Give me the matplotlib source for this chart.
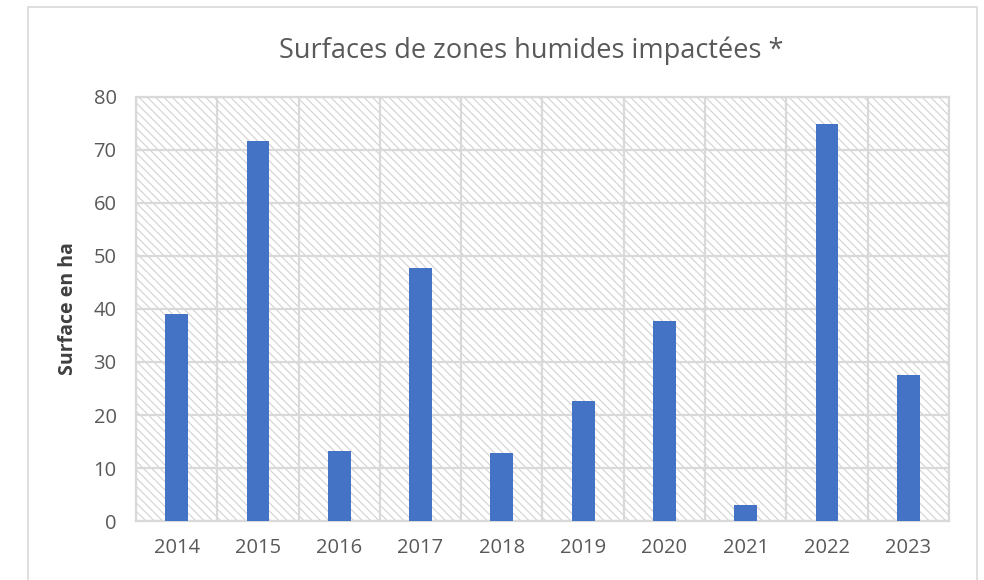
import matplotlib.pyplot as plt
from matplotlib.patches import Rectangle

# data
years = ['2014', '2015', '2016', '2017', '2018', '2019', '2020', '2021', '2022', '2023']
surface_ha = [39.0, 71.7, 13.2, 47.7, 12.9, 22.6, 37.7, 3.0, 74.9, 27.5]

plt.rcParams['font.family'] = ['Open Sans', 'DejaVu Sans']
plt.rcParams['hatch.color'] = '#d2d2d2'
plt.rcParams['hatch.linewidth'] = 0.8

grid_col = '#d9d9d9'
text_col = '#595959'

fig = plt.figure(figsize=(9.84, 5.8), dpi=100)
ax = fig.add_axes([0.1382, 0.1017, 0.8262, 0.7311])

# hatched plot area background
ax.add_patch(Rectangle((0, 0), 1, 1, transform=ax.transAxes, facecolor='white',
                       edgecolor='#d2d2d2', hatch='\\\\\\\\', linewidth=0, zorder=0))

x = range(len(years))
ax.bar(x, surface_ha, width=0.28, color='#4472C4', zorder=3)

ax.set_xlim(-0.5, len(years) - 0.5)
ax.set_ylim(0, 80)
ax.set_yticks(range(0, 81, 10))
ax.set_xticks(list(x))
ax.set_xticklabels(years)
ax.set_xticks([i + 0.5 for i in range(-1, len(years))], minor=True)

ax.grid(axis='y', color=grid_col, linewidth=1.6, zorder=1)
ax.grid(axis='x', which='minor', color=grid_col, linewidth=1.6, zorder=1)
ax.set_axisbelow(True)
for s in ax.spines.values():
    s.set_color(grid_col)
    s.set_linewidth(1.6)

ax.tick_params(axis='both', which='both', length=0, labelsize=14.5, colors=text_col)
ax.tick_params(axis='y', pad=14)
ax.tick_params(axis='x', pad=12)

ax.set_ylabel('Surface en ha', fontsize=14, fontweight='bold', color='#404040', labelpad=11)

fig.text(0.540, 0.913, 'Surfaces de zones humides impactées *', ha='center', va='center',
         fontsize=19.5, color=text_col)

# outer chart border
fig.add_artist(Rectangle((28 / 984, -0.05), (977 - 28) / 984, 1.05 - 7 / 580,
                         transform=fig.transFigure, fill=False, edgecolor=grid_col,
                         linewidth=1.2))

fig.savefig('out.png', dpi=100)
